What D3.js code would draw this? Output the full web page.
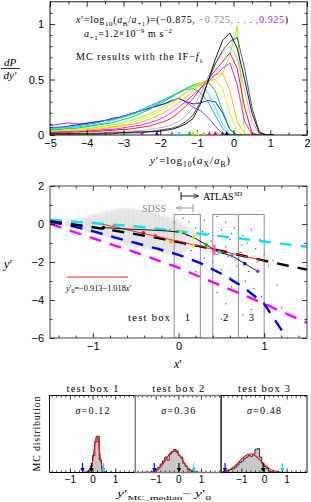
<!DOCTYPE html>
<html><head><meta charset="utf-8">
<script src="https://cdn.jsdelivr.net/npm/d3@7"></script>
<style>body{margin:0;background:#fff}svg{display:block}</style>
</head><body><svg id="c" width="311" height="502"></svg>
<script>
// ---------------- DATA ----------------
const binCenters = [-5.1,-4.9,-4.7,-4.5,-4.3,-4.1,-3.9,-3.7,-3.5,-3.3,-3.1,-2.9,-2.7,-2.5,-2.3,-2.1,-1.9,-1.7,-1.5,-1.3,-1.1,-0.9,-0.7,-0.5,-0.3,-0.1,0.1,0.3,0.5,0.7,0.9,1.1];
const xPrime = [-0.875,-0.725,-0.575,-0.425,-0.275,-0.125,0.025,0.175,0.325,0.475,0.625,0.775,0.925];
const curveColors = ["#000000","#444444","#b0b0b0","#ff0000","#ff00ff","#ffa500","#e8e800","#80ff00","#00c800","#00e5ff","#1e90ff","#0000ff","#8a2be2"];
const curveValues = [
 [0.01,0.01,0.01,0.01,0.01,0.01,0.01,0.01,0.01,0.01,0.02,0.02,0.02,0.02,0.03,0.03,0.04,0.05,0.07,0.10,0.15,0.28,0.48,0.68,0.85,0.92,0.78,0.50,0.20,0.02,0,0],
 [0.01,0.01,0.01,0.01,0.01,0.01,0.01,0.01,0.02,0.02,0.02,0.02,0.03,0.03,0.03,0.04,0.05,0.06,0.08,0.12,0.18,0.30,0.48,0.64,0.76,0.84,0.88,0.60,0.25,0.03,0,0],
 [0.01,0.01,0.01,0.01,0.02,0.02,0.02,0.02,0.02,0.03,0.03,0.03,0.04,0.04,0.05,0.06,0.07,0.09,0.12,0.17,0.25,0.37,0.52,0.64,0.74,0.80,0.70,0.40,0.12,0.01,0,0],
 [0.02,0.02,0.02,0.02,0.02,0.03,0.03,0.03,0.04,0.04,0.05,0.05,0.06,0.07,0.08,0.10,0.12,0.15,0.20,0.26,0.33,0.42,0.50,0.58,0.66,0.74,0.60,0.25,0.02,0,0,0],
 [0.02,0.02,0.03,0.03,0.03,0.03,0.04,0.04,0.05,0.05,0.06,0.07,0.08,0.09,0.11,0.13,0.16,0.20,0.25,0.30,0.36,0.42,0.48,0.54,0.60,0.65,0.45,0.12,0.01,0,0,0],
 [0.03,0.03,0.03,0.03,0.04,0.04,0.05,0.05,0.06,0.07,0.08,0.09,0.10,0.12,0.14,0.17,0.20,0.24,0.29,0.34,0.40,0.45,0.50,0.54,0.56,0.40,0.12,0.01,0,0,0,0],
 [0.03,0.03,0.04,0.04,0.04,0.05,0.05,0.06,0.07,0.08,0.09,0.10,0.12,0.14,0.17,0.20,0.24,0.28,0.33,0.38,0.43,0.47,0.49,0.50,0.42,0.20,0.03,0,0,0,0,0],
 [0.04,0.04,0.04,0.05,0.05,0.06,0.06,0.07,0.08,0.09,0.10,0.12,0.14,0.16,0.19,0.22,0.26,0.30,0.34,0.38,0.42,0.46,0.48,0.50,0.55,0.72,0.98,0,0,0,0,0],
 [0.05,0.05,0.05,0.06,0.06,0.07,0.08,0.09,0.10,0.11,0.13,0.15,0.17,0.20,0.23,0.27,0.30,0.34,0.38,0.42,0.45,0.47,0.48,0.40,0.22,0.05,0,0,0,0,0,0],
 [0.05,0.06,0.06,0.07,0.07,0.08,0.09,0.10,0.11,0.13,0.15,0.17,0.19,0.22,0.25,0.28,0.31,0.34,0.38,0.41,0.44,0.45,0.38,0.25,0.10,0.01,0,0,0,0,0,0],
 [0.06,0.06,0.07,0.07,0.08,0.09,0.10,0.11,0.13,0.14,0.16,0.18,0.20,0.23,0.26,0.29,0.32,0.35,0.38,0.41,0.42,0.38,0.30,0.18,0.06,0,0,0,0,0,0,0],
 [0.06,0.07,0.07,0.08,0.09,0.10,0.11,0.12,0.13,0.15,0.16,0.18,0.20,0.22,0.24,0.26,0.28,0.31,0.33,0.30,0.28,0.29,0.31,0.30,0.20,0.05,0,0,0,0,0,0],
 [0.08,0.09,0.10,0.11,0.10,0.10,0.11,0.12,0.13,0.14,0.16,0.18,0.20,0.22,0.24,0.26,0.28,0.30,0.33,0.30,0.25,0.22,0.16,0.08,0.01,0,0,0,0,0,0,0]
];
const medianMarks = [-0.19,-0.30,-0.45,-0.50,-0.66,-0.81,-0.98,-1.11,-1.20,-1.49,-1.68,-2.09,-2.49];

// Panel 2
const sdssCols = [
 [-1.30,[0.08,-0.05]],[-1.24,[0.14,0.0,-0.12]],[-1.19,[0.2,0.06,-0.08,-0.18]],
 [-1.13,[0.27,0.12,-0.02,-0.15,-0.25]],[-1.08,[0.3,0.18,0.05,-0.06,-0.2,-0.3]],
 [-1.03,[0.38,0.22,0.1,-0.02,-0.13,-0.26,-0.36]],[-0.98,[0.44,0.3,0.16,0.04,-0.08,-0.2,-0.33,-0.44]],
 [-0.93,[0.5,0.35,0.22,0.1,-0.03,-0.14,-0.27,-0.4,-0.5]],[-0.88,[0.56,0.4,0.27,0.15,0.02,-0.1,-0.22,-0.35,-0.47,-0.58]],
 [-0.83,[0.6,0.46,0.32,0.2,0.08,-0.04,-0.16,-0.28,-0.4,-0.53,-0.65]],
 [-0.78,[0.66,0.5,0.37,0.24,0.12,0.0,-0.12,-0.24,-0.36,-0.48,-0.6,-0.72]],
 [-0.73,[0.7,0.55,0.41,0.28,0.16,0.04,-0.08,-0.2,-0.32,-0.44,-0.56,-0.68,-0.8]],
 [-0.68,[0.72,0.58,0.44,0.31,0.19,0.07,-0.05,-0.17,-0.29,-0.41,-0.53,-0.65,-0.78,-0.9]],
 [-0.63,[0.75,0.6,0.46,0.33,0.21,0.09,-0.03,-0.15,-0.27,-0.39,-0.51,-0.63,-0.75,-0.88,-0.98]],
 [-0.58,[0.74,0.6,0.47,0.34,0.22,0.1,-0.02,-0.14,-0.26,-0.38,-0.5,-0.62,-0.74,-0.86,-0.98,-1.08]],
 [-0.53,[0.72,0.58,0.45,0.33,0.21,0.09,-0.03,-0.15,-0.27,-0.39,-0.51,-0.63,-0.75,-0.87,-1.0,-1.12]],
 [-0.48,[0.7,0.56,0.43,0.31,0.19,0.07,-0.05,-0.17,-0.29,-0.41,-0.53,-0.65,-0.77,-0.9,-1.02,-1.15]],
 [-0.43,[0.66,0.52,0.4,0.28,0.16,0.04,-0.08,-0.2,-0.32,-0.44,-0.56,-0.68,-0.8,-0.93,-1.06,-1.2]],
 [-0.38,[0.62,0.48,0.36,0.24,0.12,0.0,-0.12,-0.24,-0.36,-0.48,-0.6,-0.72,-0.84,-0.97,-1.1,-1.24]],
 [-0.33,[0.56,0.43,0.31,0.19,0.07,-0.05,-0.17,-0.29,-0.41,-0.53,-0.65,-0.77,-0.89,-1.02,-1.15,-1.28]],
 [-0.28,[0.5,0.37,0.25,0.13,0.01,-0.11,-0.23,-0.35,-0.47,-0.59,-0.71,-0.83,-0.95,-1.08,-1.2,-1.34]],
 [-0.23,[0.44,0.31,0.19,0.07,-0.05,-0.17,-0.29,-0.41,-0.53,-0.65,-0.77,-0.89,-1.01,-1.14,-1.27,-1.4]],
 [-0.18,[0.37,0.24,0.12,0.0,-0.12,-0.24,-0.36,-0.48,-0.6,-0.72,-0.84,-0.96,-1.08,-1.21,-1.34,-1.47]],
 [-0.13,[0.3,0.17,0.05,-0.07,-0.19,-0.31,-0.43,-0.55,-0.67,-0.79,-0.91,-1.03,-1.15,-1.28,-1.41,-1.54]],
 [-0.08,[0.22,0.09,-0.03,-0.15,-0.27,-0.39,-0.51,-0.63,-0.75,-0.87,-0.99,-1.11,-1.23,-1.36,-1.5]],
 [-0.03,[0.14,0.0,-0.12,-0.24,-0.36,-0.48,-0.6,-0.72,-0.84,-0.96,-1.08,-1.2,-1.33,-1.47,-1.6]],
 [0.02,[0.0,-0.14,-0.27,-0.4,-0.53,-0.66,-0.79,-0.92,-1.05,-1.18,-1.32,-1.46]],
 [0.07,[-0.15,-0.3,-0.45,-0.6,-0.75,-0.9,-1.05,-1.2,-1.35]],
 [0.12,[-0.3,-0.48,-0.66,-0.84,-1.02,-1.2]],[0.17,[-0.45,-0.7,-0.95,-1.15]],[0.22,[-0.6,-0.9]]
];
const atlasPts = [[0.05,0.3],[0.12,0.1],[0.2,-0.2],[0.3,0.2],[0.35,-0.5],[0.45,0.4],[0.5,-0.3],[0.55,0.1],[0.6,-0.8],[0.65,-0.2],[0.7,0.3],[0.75,-0.6],[0.8,-1.0],[0.85,-0.3],[0.9,-1.3],[0.95,-0.8],[1.0,-1.6],[1.05,-2.2],[1.1,-1.9],[0.15,-1.4],[0.25,-1.0],[0.3,-1.8],[0.4,-2.0],[0.45,-1.6],[0.5,-2.4],[0.55,-1.2],[0.6,-2.8],[0.68,-2.2],[0.72,-1.5],[0.78,-3.0],[0.82,-2.5],[0.88,-3.4],[0.92,-2.0],[0.97,-3.8],[0.35,-3.0],[0.45,-3.6],[0.55,-4.2],[0.62,-3.3],[0.7,-4.0],[0.85,-4.5],[1.15,-3.2],[0.2,-2.5],[0.1,-0.6],[0.08,-1.1],[-0.05,0.1],[-0.1,-0.3],[0.28,-0.4],[0.38,-0.9],[0.42,-1.3],[0.58,-1.7],[0.62,-0.5],[0.74,-1.1],[0.66,-1.9],[0.5,-5.0],[0.75,-4.8],[1.2,-4.4]];
const dashX = [-1.5,-1.25,-1,-0.75,-0.5,-0.25,0,0.25,0.5,0.75,1,1.25,1.5];
const dashCyan = [0.22,0.13,0.05,-0.04,-0.13,-0.25,-0.38,-0.51,-0.65,-0.78,-0.92,-1.06,-1.2];
const dashBlack = [0.15,-0.01,-0.17,-0.35,-0.53,-0.73,-0.95,-1.18,-1.42,-1.67,-1.93,-2.17,-2.4];
const dashBlue = [0.12,-0.1,-0.38,-0.7,-1.0,-1.3,-1.62,-2.05,-2.62,-3.3,-4.2,-5.9,-7.5];
const dashMagenta = [0.02,-0.37,-0.75,-1.12,-1.5,-1.9,-2.3,-2.78,-3.25,-3.72,-4.2,-4.7,-5.2];
const mcMedianLine = [-0.19,-0.23,-0.27,-0.30,-0.33,-0.37,-0.44,-0.70,-1.10,-1.49,-1.68,-2.09,-2.49];
const dataPts = [[-0.41,-0.46,"#ff0000"],[-0.27,-0.62,"#ff3030"],[-0.09,-0.93,"#ffa500"],[0.17,-1.16,"#e8e800"],[0.42,-1.35,"#ff0000"]];
const fitA = -0.913, fitB = -1.018, fitRange = [-0.88, 1.0];
const testBoxes = [[-0.05,0.255,"1"],[0.40,0.70,"2"],[0.70,1.0,"3"]];

// Panel 3
const boxTitles = ["test box 1","test box 2","test box 3"];
const sigmaLabels = ["σ=0.12","σ=0.36","σ=0.48"];
const fitMu = [0.19,-0.19,-0.6], fitSigma = [0.12,0.36,0.48], fitPeak = [0.47,0.28,0.24];
const histEdges = [
 [-0.3,-0.2,-0.1,0.0,0.1,0.2,0.3,0.4,0.5,0.6],
 [-1.2,-1.1,-1.0,-0.9,-0.8,-0.7,-0.6,-0.5,-0.4,-0.3,-0.2,-0.1,0.0,0.1,0.2,0.3,0.4,0.5,0.6,0.7],
 [-1.8,-1.7,-1.6,-1.5,-1.4,-1.3,-1.2,-1.1,-1.0,-0.9,-0.8,-0.7,-0.6,-0.5,-0.4,-0.3,-0.2,-0.1,0.0,0.1,0.2,0.3,0.4]
];
const histVals = [
 [0.01,0.03,0.08,0.22,0.40,0.47,0.16,0.04,0.01],
 [0.01,0.02,0.04,0.07,0.11,0.15,0.20,0.16,0.24,0.27,0.30,0.28,0.22,0.20,0.12,0.08,0.04,0.02,0.01],
 [0.01,0.02,0.03,0.04,0.05,0.07,0.10,0.13,0.15,0.18,0.20,0.22,0.21,0.24,0.30,0.31,0.20,0.12,0.08,0.05,0.02,0.01]
];
const arrowBlue = [-0.44,-1.06,-1.72], arrowBlack = [-0.05,0.03,-0.04], arrowCyan = [0.49,0.69,0.81];

// ---------------- DRAW ----------------
const svg = d3.select("#c");
const SANS = "Liberation Sans, Arial, sans-serif";
const SERIF = "Liberation Serif, Times New Roman, serif";

function rich(g, x, y, parts, size, anchor, len, adj){
  const t = g.append("text").attr("x",x).attr("y",y).attr("font-family",SERIF)
    .attr("font-size",size).attr("text-anchor",anchor||"start").attr("fill","#000");
  if(len) t.attr("textLength",len).attr("lengthAdjust",adj||"spacing");
  let cur = 0;
  parts.forEach(p=>{
    const o = typeof p==="string" ? {t:p} : p;
    const target = o.sub ? size*0.3 : (o.sup ? -size*0.4 : 0);
    const ts = t.append("tspan").text(o.t).attr("dy", target-cur);
    cur = target;
    if(o.sub||o.sup) ts.attr("font-size", size*0.7);
    if(o.fill) ts.attr("fill", o.fill);
    if(o.it) ts.attr("font-style","italic");
  });
  return t;
}
function axes(g, x, y, o){
  const [xa,xb] = x.range(), [ya,yb] = y.range();
  const st = s=>s.selectAll(".domain").remove();
  const M = o.major, m = o.minor;
  g.append("g").attr("transform",`translate(0,${ya})`).call(d3.axisBottom(x).tickValues(o.xm).tickSize(-m).tickFormat("")).call(st);
  g.append("g").attr("transform",`translate(0,${yb})`).call(d3.axisTop(x).tickValues(o.xm).tickSize(-m).tickFormat("")).call(st);
  g.append("g").attr("transform",`translate(0,${ya})`).call(d3.axisBottom(x).tickValues(o.xt).tickSize(-M).tickPadding(o.xpad||5).tickFormat(o.xf)).call(st);
  g.append("g").attr("transform",`translate(0,${yb})`).call(d3.axisTop(x).tickValues(o.xt).tickSize(-M).tickFormat("")).call(st);
  if(o.yt){
    g.append("g").attr("transform",`translate(${xa},0)`).call(d3.axisLeft(y).tickValues(o.ym).tickSize(-m).tickFormat("")).call(st);
    g.append("g").attr("transform",`translate(${xb},0)`).call(d3.axisRight(y).tickValues(o.ym).tickSize(-m).tickFormat("")).call(st);
    g.append("g").attr("transform",`translate(${xa},0)`).call(d3.axisLeft(y).tickValues(o.yt).tickSize(-M).tickPadding(o.ypad||6).tickFormat(o.yf)).call(st);
    g.append("g").attr("transform",`translate(${xb},0)`).call(d3.axisRight(y).tickValues(o.yt).tickSize(-M).tickFormat("")).call(st);
  }
  g.selectAll(".tick text").attr("font-family",SANS).attr("font-size",o.fs||11).attr("fill","#000");
  g.selectAll(".tick line").attr("stroke","#000").attr("stroke-width",0.8);
}
function frame(g, x, y, color, w){
  const [xa,xb] = x.range(), [ya,yb] = y.range();
  g.append("rect").attr("x",xa).attr("y",yb).attr("width",xb-xa).attr("height",ya-yb)
   .attr("fill","none").attr("stroke",color||"#000").attr("stroke-width",w||0.9);
}
const minus = d3.format("d");

// ===== Panel 1 =====
const p1 = svg.append("g");
const x1 = d3.scaleLinear().domain([-5,2]).range([50,307]);
const y1 = d3.scaleLinear().domain([0,1.2]).range([135,1.8]);
p1.append("clipPath").attr("id","cp1").append("rect").attr("x",50).attr("y",1.8).attr("width",257).attr("height",133.2);
const line1 = d3.line().x((d,i)=>x1(binCenters[i])).y(d=>y1(d));
const cg = p1.append("g").attr("clip-path","url(#cp1)");
for(let k=curveValues.length-1;k>=0;k--){
  cg.append("path").attr("d",line1(curveValues[k])).attr("fill","none")
    .attr("stroke",curveColors[k]).attr("stroke-width",0.9);
}
axes(p1, x1, y1, {xt:[-5,-4,-3,-2,-1,0,1,2], xm:[-4.5,-3.5,-2.5,-1.5,-0.5,0.5,1.5], xf:minus,
  yt:[0,0.5,1], ym:[0.1,0.2,0.3,0.4,0.6,0.7,0.8,0.9,1.1], yf:d=>d===0.5?"0.5":minus(d), major:5, minor:2.5, xpad:4});
frame(p1, x1, y1);
medianMarks.forEach((m,k)=>{
  const cx = x1(m), cy = y1(0);
  p1.append("path").attr("d",`M${cx-2},${cy}L${cx+2},${cy}L${cx},${cy-4}Z`).attr("fill",curveColors[k]);
});
rich(p1, 76, 23, [{t:"x",it:1},"′=log",{t:"10",sub:1},"(",{t:"a",it:1},{t:"B",sub:1},"/",{t:"a",it:1},{t:"+1",sub:1},
  ")=(−0.875, ",{t:"−0.725,",fill:"#888"},{t:" .",fill:"#ff0000"},{t:"  .",fill:"#00c800"},{t:"  .",fill:"#0000ff"},{t:" ,0.925",fill:"#8a2be2"},")"], 10, "start", 212);
rich(p1, 84, 37, [{t:"a",it:1},{t:"+1",sub:1},"=1.2×10",{t:"−9",sup:1}," m s",{t:"−2",sup:1}], 10, "start", 88);
rich(p1, 76, 60, ["MC results with the IF−",{t:"f",it:1},{t:"λ",sub:1}], 10, "start", 127);
rich(p1, 190, 164, [{t:"y",it:1},"′=log",{t:"10",sub:1},"(",{t:"a",it:1},{t:"X",sub:1},"/",{t:"a",it:1},{t:"B",sub:1},")"], 11, "middle", 80);
p1.append("text").attr("x",10).attr("y",66).attr("text-anchor","middle").attr("font-family",SERIF).attr("font-style","italic").attr("font-size",11).text("dP");
p1.append("line").attr("x1",1).attr("x2",20).attr("y1",68.5).attr("y2",68.5).attr("stroke","#000").attr("stroke-width",0.8);
p1.append("text").attr("x",10).attr("y",78.5).attr("text-anchor","middle").attr("font-family",SERIF).attr("font-style","italic").attr("font-size",11).text("dy′");

// ===== Panel 2 =====
const p2 = svg.append("g");
const x2 = d3.scaleLinear().domain([-1.5,1.5]).range([50,307]);
const y2 = d3.scaleLinear().domain([-6,2]).range([338,186]);
p2.append("clipPath").attr("id","cp2").append("rect").attr("x",50).attr("y",186).attr("width",257).attr("height",152);
const g2 = p2.append("g").attr("clip-path","url(#cp2)");
sdssCols.forEach(([cx,ys])=>ys.forEach(yv=>{
  g2.append("circle").attr("cx",x2(cx)).attr("cy",y2(yv)).attr("r",2.4).attr("fill","#c8c8c8").attr("opacity",0.33);
}));
atlasPts.forEach(([px,py])=>g2.append("rect").attr("x",x2(px)-0.5).attr("y",y2(py)-0.5).attr("width",1.1).attr("height",1.1).attr("fill","#333"));
testBoxes.forEach(([a,b,lab])=>{
  g2.append("rect").attr("x",x2(a)).attr("y",y2(0.5)).attr("width",x2(b)-x2(a)).attr("height",y2(-6)-y2(0.5))
   .attr("fill","none").attr("stroke","#999").attr("stroke-width",1.1);
});
const dl = d3.line().x((d,i)=>x2(dashX[i])).y(d=>y2(d));
[[dashCyan,"#00e5ff"],[dashMagenta,"#ff00ff"],[dashBlue,"#0000ff"],[dashBlack,"#000"]].forEach(([arr,c])=>{
  g2.append("path").attr("d",dl(arr)).attr("fill","none").attr("stroke",c).attr("stroke-width",2.4).attr("stroke-dasharray","12,9");
});
g2.append("line").attr("x1",x2(fitRange[0])).attr("y1",y2(fitA+fitB*fitRange[0])).attr("x2",x2(fitRange[1])).attr("y2",y2(fitA+fitB*fitRange[1]))
  .attr("stroke","#ff2020").attr("stroke-width",1);
const ml = d3.line().x((d,i)=>x2(xPrime[i])).y(d=>y2(d));
g2.append("path").attr("d",ml(mcMedianLine)).attr("fill","none").attr("stroke","#000").attr("stroke-width",0.9);
mcMedianLine.forEach((v,i)=>{ if(i===0||i>=6) g2.append("circle").attr("cx",x2(xPrime[i])).attr("cy",y2(v)).attr("r",1.8).attr("fill",curveColors[i]); });
dataPts.forEach(([px,py,c])=>g2.append("circle").attr("cx",x2(px)).attr("cy",y2(py)).attr("r",1.8).attr("fill",c));
g2.append("line").attr("x1",x2(0.42)).attr("x2",x2(0.42)).attr("y1",y2(-1.1)).attr("y2",y2(-1.65)).attr("stroke","#ff40c0").attr("stroke-width",2);
axes(p2, x2, y2, {xt:[-1,0,1], xm:[-1.4,-1.2,-0.8,-0.6,-0.4,-0.2,0.2,0.4,0.6,0.8,1.2,1.4], xf:minus,
  yt:[-6,-4,-2,0,2], ym:[-5,-3,-1,1], yf:minus, major:5, minor:2.5, xpad:4});
frame(p2, x2, y2, "#333");
p2.append("text").attr("x",128).attr("y",y2(-4.9)+4).attr("font-family",SERIF).attr("font-size",10.5).attr("textLength",42).attr("lengthAdjust","spacing").text("test box");
testBoxes.forEach(([a,b,lab])=>p2.append("text").attr("x",(x2(a)+x2(b))/2).attr("y",y2(-4.9)+4).attr("text-anchor","middle").attr("font-family",SERIF).attr("font-size",10.5).text(lab));
p2.append("line").attr("x1",67).attr("x2",128).attr("y1",277).attr("y2",277).attr("stroke","#ff2020").attr("stroke-width",1);
rich(p2, 66, 291, [{t:"y",it:1},"′",{t:"0",sub:1},"=−0.913−1.018",{t:"x",it:1},"′"], 8.3);
p2.append("defs").html('<marker id="ag" viewBox="0 0 10 10" refX="9" refY="5" markerWidth="6" markerHeight="6" orient="auto-start-reverse"><path d="M0,1L10,5L0,9" fill="none" stroke="#888" stroke-width="1.3"/></marker><marker id="ak" viewBox="0 0 10 10" refX="9" refY="5" markerWidth="6" markerHeight="6" orient="auto-start-reverse"><path d="M0,1L10,5L0,9" fill="none" stroke="#000" stroke-width="1.3"/></marker>');
p2.append("line").attr("x1",x2(0.17)).attr("x2",x2(-0.02)).attr("y1",208).attr("y2",208).attr("stroke","#888").attr("stroke-width",0.9).attr("marker-end","url(#ag)");
p2.append("line").attr("x1",x2(0.17)).attr("x2",x2(0.17)).attr("y1",204).attr("y2",212).attr("stroke","#888").attr("stroke-width",0.9);
p2.append("text").attr("x",142).attr("y",212).attr("font-family",SERIF).attr("font-size",10).attr("fill","#888").attr("textLength",24).attr("lengthAdjust","spacing").text("SDSS");
p2.append("line").attr("x1",x2(0.03)).attr("x2",x2(0.23)).attr("y1",196).attr("y2",196).attr("stroke","#000").attr("stroke-width",0.9).attr("marker-end","url(#ak)");
p2.append("line").attr("x1",x2(0.03)).attr("x2",x2(0.03)).attr("y1",192).attr("y2",200).attr("stroke","#000").attr("stroke-width",0.9);
rich(p2, 203, 200, ["ATLAS",{t:"3D",sup:1}], 10, "start", 39);
rich(p2, 178, 368, [{t:"x",it:1},"′"], 12, "middle");
rich(p2, 8, 268, [{t:"y",it:1},"′"], 13, "middle");

// ===== Panel 3 =====
const p3 = svg.append("g");
const subL = [49.5,135.3,221], subW = 86;
const y3 = d3.scaleLinear().domain([0,1]).range([472.5,395.5]);
subL.forEach((L,i)=>{
  const g = p3.append("g");
  const x3 = d3.scaleLinear().domain([-1.9,1.9]).range([L,L+subW]);
  const edges = histEdges[i], vals = histVals[i];
  const pts = [[edges[0],0]];
  vals.forEach((v,j)=>{ pts.push([edges[j],v]); pts.push([edges[j+1],v]); });
  pts.push([edges[edges.length-1],0]);
  const hl = d3.line().x(d=>x3(d[0])).y(d=>y3(d[1]));
  g.append("path").attr("d",hl(pts)+"Z").attr("fill","#c8c8c8").attr("stroke","#000").attr("stroke-width",0.8);
  const gx = d3.range(-1.9,1.901,0.02);
  g.append("path").attr("d",d3.line().x(d=>x3(d)).y(d=>y3(fitPeak[i]*Math.exp(-0.5*((d-fitMu[i])/fitSigma[i])**2)))(gx))
    .attr("fill","none").attr("stroke","#ff1010").attr("stroke-width",1.2);
  [[arrowBlue[i],"#0000ff"],[arrowBlack[i],"#000"],[arrowCyan[i],"#00e5ff"]].forEach(([v,c])=>{
    const ax = x3(v);
    g.append("line").attr("x1",ax).attr("x2",ax).attr("y1",463).attr("y2",471).attr("stroke",c).attr("stroke-width",1.2);
    g.append("path").attr("d",`M${ax-2.2},${468}L${ax+2.2},${468}L${ax},${472.5}Z`).attr("fill",c);
  });
  axes(g, x3, y3, {xt:[-1,0,1], xm:[-1.8,-1.6,-1.4,-1.2,-0.8,-0.6,-0.4,-0.2,0.2,0.4,0.6,0.8,1.2,1.4,1.6,1.8], xf:minus, major:4, minor:2, xpad:3, fs:10});
  frame(g, x3, y3, i===1?"#777":"#000", i===1?1.4:0.9);
  g.append("text").attr("x",L+subW/2).attr("y",392).attr("text-anchor","middle").attr("font-family",SERIF).attr("font-size",10.5)
    .attr("textLength",52).attr("lengthAdjust","spacing").text(boxTitles[i]);
  rich(g, L+subW/2, 414, [{t:"σ",it:1},sigmaLabels[i].slice(1)], 10, "middle", 34);
});
rich(p3, 164, 497, [{t:"y",it:1},"′",{t:"MC_median",sub:1},"− ",{t:"y",it:1},"′",{t:"0",sub:1}], 10, "middle", 94, "spacingAndGlyphs");
p3.append("text").attr("transform","translate(40,434) rotate(-90)").attr("text-anchor","middle").attr("font-family",SERIF).attr("font-size",10)
  .attr("textLength",75).attr("lengthAdjust","spacing").text("MC distribution");
</script>
</body></html>
